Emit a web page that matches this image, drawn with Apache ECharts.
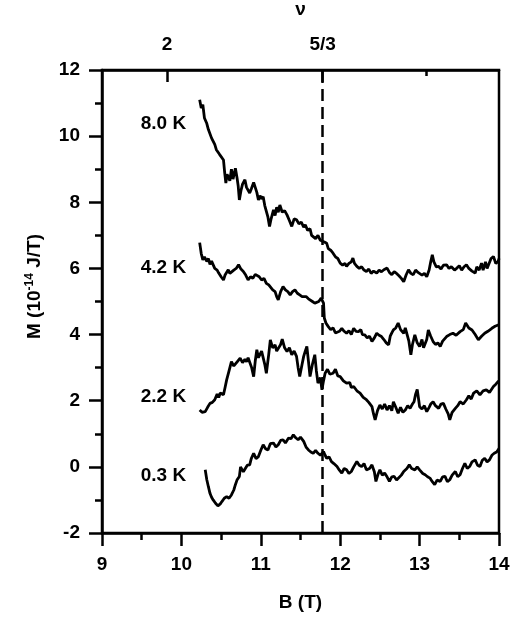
<!DOCTYPE html>
<html>
<head>
<meta charset="utf-8">
<script src="https://cdn.jsdelivr.net/npm/echarts@6/dist/echarts.min.js"></script>
<style>
  html, body { margin: 0; padding: 0; background: #fff; }
  #chart { width: 518px; height: 618px; }
</style>
</head>
<body>
<div id="chart"></div>
<script>
// B (T), M (1e-14 J/T)
const curve80 = [[10.23,11.10],[10.25,10.85],[10.27,10.95],[10.29,10.55],[10.30,10.49],[10.32,10.38],[10.34,10.20],[10.36,10.15],[10.38,9.94],[10.40,9.98],[10.42,9.75],[10.44,9.59],[10.46,9.65],[10.48,9.45],[10.50,9.42],[10.53,9.28],[10.545,8.9],[10.56,8.58],[10.575,8.85],[10.59,8.83],[10.61,8.65],[10.63,9.0],[10.65,8.7],[10.68,9.03],[10.70,8.75],[10.715,8.5],[10.73,8.07],[10.75,8.35],[10.77,8.55],[10.80,8.68],[10.82,8.45],[10.84,8.5],[10.86,8.28],[10.88,8.4],[10.91,8.6],[10.93,8.63],[10.95,8.3],[10.97,8.07],[10.99,8.2],[11.01,8.1],[11.03,8.17],[11.05,7.9],[11.07,7.85],[11.09,7.55],[11.11,7.27],[11.13,7.5],[11.16,7.77],[11.18,7.6],[11.2,7.85],[11.22,7.7],[11.24,7.92],[11.27,7.7],[11.3,7.75],[11.33,7.62],[11.36,7.45],[11.39,7.27],[11.42,7.5],[11.45,7.47],[11.48,7.35],[11.51,7.4],[11.54,7.25],[11.56,7.32],[11.59,7.15],[11.62,7.2],[11.64,7.0],[11.66,7.02],[11.69,6.9],[11.72,7.0],[11.75,6.85],[11.77,6.91],[11.8,6.8],[11.83,6.76],[11.85,6.6],[11.88,6.55],[11.91,6.46],[11.94,6.35],[11.97,6.3],[12.0,6.16],[12.03,6.1],[12.06,6.15],[12.08,6.06],[12.11,6.15],[12.14,6.2],[12.16,6.31],[12.18,6.15],[12.21,6.06],[12.24,6.0],[12.27,6.05],[12.3,5.95],[12.33,5.91],[12.36,5.98],[12.39,5.85],[12.42,5.92],[12.46,5.86],[12.49,5.95],[12.52,5.9],[12.55,5.96],[12.59,6.01],[12.62,5.88],[12.65,5.81],[12.68,5.9],[12.71,5.85],[12.74,5.78],[12.77,5.7],[12.8,5.6],[12.83,5.8],[12.86,5.96],[12.89,5.85],[12.92,5.81],[12.95,5.95],[12.98,5.88],[13.0,5.91],[13.03,5.8],[13.06,5.85],[13.09,5.75],[13.12,5.95],[13.14,6.2],[13.16,6.41],[13.18,6.2],[13.21,6.05],[13.24,6.06],[13.27,5.98],[13.3,6.1],[13.34,6.11],[13.37,6.0],[13.4,6.05],[13.44,5.95],[13.47,6.01],[13.5,6.08],[13.53,5.95],[13.56,6.05],[13.59,6.11],[13.62,6.0],[13.66,5.92],[13.7,5.86],[13.72,6.05],[13.75,5.95],[13.78,6.16],[13.8,5.95],[13.83,6.2],[13.85,6.0],[13.87,6.06],[13.9,6.3],[13.93,6.36],[13.96,6.15],[13.99,6.21],[14.0,6.3]];

const curve42 = [[10.23,6.78],[10.25,6.45],[10.27,6.26],[10.29,6.35],[10.32,6.21],[10.34,6.3],[10.36,6.12],[10.38,6.22],[10.4,6.16],[10.42,6.0],[10.45,5.95],[10.47,5.86],[10.5,5.75],[10.53,5.65],[10.55,5.8],[10.57,5.75],[10.59,5.96],[10.61,5.85],[10.63,5.81],[10.66,5.95],[10.69,6.0],[10.72,6.11],[10.75,5.98],[10.78,5.91],[10.81,5.8],[10.84,5.65],[10.87,5.75],[10.9,5.7],[10.93,5.82],[10.95,5.86],[10.98,5.75],[11.01,5.65],[11.04,5.7],[11.07,5.55],[11.1,5.5],[11.12,5.45],[11.15,5.35],[11.18,5.3],[11.2,5.15],[11.22,5.05],[11.25,5.3],[11.28,5.45],[11.31,5.35],[11.34,5.3],[11.37,5.2],[11.4,5.3],[11.43,5.35],[11.46,5.25],[11.49,5.2],[11.52,5.15],[11.54,5.1],[11.57,5.15],[11.6,5.08],[11.62,5.05],[11.65,5.0],[11.68,4.95],[11.7,4.9],[11.73,5.0],[11.76,5.1],[11.79,4.95],[11.8,4.5],[11.82,4.35],[11.85,4.24],[11.88,4.15],[11.91,4.2],[11.94,4.05],[11.96,3.99],[11.99,4.1],[12.02,4.19],[12.05,4.1],[12.08,4.04],[12.11,4.12],[12.14,4.0],[12.17,4.19],[12.2,4.1],[12.23,4.09],[12.26,4.15],[12.28,4.0],[12.31,3.99],[12.34,3.9],[12.37,3.95],[12.4,3.79],[12.43,3.9],[12.46,4.04],[12.49,3.98],[12.52,3.94],[12.55,3.85],[12.58,3.75],[12.61,3.69],[12.63,3.95],[12.65,4.05],[12.67,4.14],[12.7,4.2],[12.73,4.35],[12.76,4.15],[12.8,4.04],[12.82,4.2],[12.84,4.14],[12.865,3.8],[12.89,3.39],[12.91,3.7],[12.94,3.99],[12.97,3.75],[13.0,3.64],[13.03,3.85],[13.05,3.6],[13.07,3.54],[13.09,3.85],[13.11,4.14],[13.14,3.95],[13.17,3.79],[13.2,3.7],[13.23,3.75],[13.26,3.64],[13.29,3.8],[13.31,3.75],[13.34,3.94],[13.38,4.0],[13.42,4.04],[13.46,3.98],[13.51,4.09],[13.55,4.15],[13.58,4.35],[13.62,4.2],[13.66,4.14],[13.7,4.0],[13.74,3.84],[13.78,3.95],[13.82,4.04],[13.86,4.1],[13.91,4.19],[13.95,4.25],[13.99,4.29],[14.0,4.3]];

const curve22 = [[10.23,1.72],[10.26,1.65],[10.3,1.67],[10.33,1.8],[10.36,1.92],[10.39,1.95],[10.42,2.03],[10.45,2.2],[10.47,2.1],[10.49,2.23],[10.53,2.18],[10.55,2.4],[10.57,2.63],[10.6,2.9],[10.63,3.18],[10.66,3.05],[10.68,3.03],[10.71,3.2],[10.74,3.29],[10.77,3.15],[10.8,3.25],[10.82,3.18],[10.84,3.3],[10.86,3.34],[10.885,3.0],[10.91,2.73],[10.93,3.2],[10.95,3.54],[10.97,3.3],[10.99,3.24],[11.01,3.5],[11.03,3.44],[11.05,3.1],[11.07,2.83],[11.1,3.4],[11.12,3.84],[11.15,3.6],[11.18,3.69],[11.2,3.5],[11.22,3.54],[11.25,3.7],[11.27,3.86],[11.3,3.6],[11.33,3.49],[11.36,3.6],[11.39,3.39],[11.42,3.5],[11.45,3.34],[11.47,3.0],[11.49,2.73],[11.52,3.1],[11.54,3.34],[11.56,3.5],[11.58,3.64],[11.6,3.2],[11.62,2.73],[11.65,3.1],[11.68,3.39],[11.7,2.9],[11.72,2.53],[11.75,2.7],[11.77,2.33],[11.79,2.6],[11.81,2.83],[11.84,2.95],[11.87,2.8],[11.91,2.83],[11.94,2.95],[11.97,2.75],[12.0,2.73],[12.04,2.6],[12.08,2.53],[12.12,2.55],[12.14,2.4],[12.17,2.43],[12.21,2.3],[12.25,2.23],[12.29,2.1],[12.33,2.03],[12.36,1.95],[12.4,1.82],[12.42,1.6],[12.44,1.42],[12.47,1.7],[12.5,1.87],[12.53,1.75],[12.56,1.9],[12.59,1.72],[12.62,1.85],[12.65,1.7],[12.67,1.97],[12.7,1.8],[12.73,1.62],[12.76,1.8],[12.79,1.65],[12.82,1.72],[12.85,1.85],[12.88,1.77],[12.91,1.9],[12.93,1.97],[12.95,2.2],[12.97,2.34],[12.99,2.0],[13.0,1.82],[13.03,1.75],[13.06,1.85],[13.09,1.67],[13.12,1.8],[13.14,1.9],[13.17,1.97],[13.2,1.85],[13.24,1.77],[13.27,1.9],[13.3,1.92],[13.33,1.75],[13.36,1.6],[13.38,1.42],[13.41,1.65],[13.45,1.77],[13.48,1.85],[13.51,1.97],[13.55,1.9],[13.59,2.03],[13.62,2.15],[13.65,2.05],[13.68,2.23],[13.72,2.3],[13.76,2.18],[13.8,2.3],[13.84,2.33],[13.88,2.25],[13.93,2.43],[13.96,2.5],[13.99,2.58],[14.0,2.6]];

const curve03 = [[10.3,-0.09],[10.32,-0.39],[10.34,-0.6],[10.36,-0.8],[10.38,-0.92],[10.4,-1.0],[10.43,-1.1],[10.46,-1.18],[10.49,-1.12],[10.51,-1.05],[10.54,-0.95],[10.57,-0.9],[10.6,-0.95],[10.63,-0.85],[10.66,-0.7],[10.68,-0.54],[10.7,-0.4],[10.73,-0.29],[10.745,0.0],[10.76,0.06],[10.78,-0.15],[10.8,-0.09],[10.83,0.05],[10.86,0.06],[10.88,0.25],[10.91,0.41],[10.94,0.25],[10.97,0.31],[11.0,0.5],[11.03,0.67],[11.06,0.55],[11.09,0.51],[11.12,0.7],[11.16,0.72],[11.19,0.6],[11.22,0.67],[11.25,0.8],[11.28,0.82],[11.31,0.72],[11.35,0.87],[11.38,0.85],[11.41,0.97],[11.44,0.88],[11.47,0.82],[11.5,0.9],[11.54,0.77],[11.57,0.6],[11.6,0.51],[11.63,0.45],[11.66,0.41],[11.69,0.5],[11.72,0.41],[11.75,0.35],[11.79,0.46],[11.81,0.35],[11.83,0.26],[11.86,0.3],[11.89,0.16],[11.92,0.1],[11.96,0.01],[11.99,-0.1],[12.02,-0.19],[12.05,-0.05],[12.08,-0.09],[12.11,-0.2],[12.14,-0.14],[12.17,0.0],[12.21,0.16],[12.24,0.05],[12.27,0.01],[12.3,0.1],[12.33,-0.09],[12.37,-0.05],[12.4,0.06],[12.43,-0.15],[12.45,-0.44],[12.48,-0.2],[12.5,-0.09],[12.53,-0.25],[12.56,-0.19],[12.59,-0.3],[12.62,-0.44],[12.65,-0.3],[12.68,-0.29],[12.71,-0.4],[12.73,-0.39],[12.77,-0.25],[12.8,-0.14],[12.84,-0.05],[12.87,0.06],[12.9,-0.05],[12.94,-0.09],[12.97,0.0],[13.0,-0.09],[13.04,-0.2],[13.07,-0.24],[13.1,-0.3],[13.13,-0.34],[13.16,-0.45],[13.19,-0.54],[13.22,-0.4],[13.26,-0.44],[13.29,-0.3],[13.32,-0.29],[13.35,-0.45],[13.38,-0.39],[13.41,-0.25],[13.45,-0.14],[13.48,-0.3],[13.51,-0.24],[13.54,-0.05],[13.57,0.11],[13.6,-0.05],[13.63,0.01],[13.66,0.15],[13.7,0.21],[13.73,0.05],[13.76,0.01],[13.79,0.2],[13.82,0.26],[13.85,0.15],[13.88,0.21],[13.91,0.35],[13.94,0.41],[13.97,0.45],[13.99,0.51],[14.0,0.55]];

// temperature labels: [B at right edge of text, M]
const tempNames = ["8.0 K", "4.2 K", "2.2 K", "0.3 K"];
const tempPos = [[10.06, 10.37], [10.06, 6.02], [10.06, 2.12], [10.06, -0.27]];

// filling factor axis on top
const nuB = [9.82, 11.78];
const nuNames = ["2", "5/3"];
const nuMinorB = [13.09];
const dashB = 11.78;

const FONT = "'Liberation Sans', Arial, sans-serif";
const black = "#000";

const chart = echarts.init(document.getElementById("chart"));

function lineSeries(data) {
  return {
    type: "line",
    data: data,
    showSymbol: false,
    symbol: "none",
    lineStyle: { color: black, width: 2.8 },
    xAxisIndex: 0,
    yAxisIndex: 0,
    z: 3,
  };
}

const baseText = { color: black, fontFamily: FONT, fontSize: 19, fontWeight: "bold" };

chart.setOption({
  animation: false,
  backgroundColor: "#fff",
  grid: {
    left: 102,
    right: 19,
    top: 70,
    bottom: 85,
    outerBoundsMode: "none",
    containLabel: false,
    show: true,
    borderColor: black,
    borderWidth: 2.5,
  },
  xAxis: [
    {
      type: "value",
      position: "bottom",
      min: 9,
      max: 14,
      interval: 1,
      name: "B (T)",
      nameLocation: "middle",
      nameGap: 60,
      nameTextStyle: baseText,
      axisLine: { onZero: false, lineStyle: { color: black, width: 2.5 } },
      axisTick: { inside: false, length: 13, lineStyle: { color: black, width: 2.5 } },
      minorTick: { show: true, splitNumber: 2, length: 7, lineStyle: { color: black, width: 2.5 } },
      axisLabel: Object.assign({ margin: 22 }, baseText),
      splitLine: { show: false },
    },
    {
      type: "value",
      position: "top",
      min: 9,
      max: 14,
      name: "\u03bd",
      nameLocation: "middle",
      nameGap: 51,
      nameTextStyle: baseText,
      axisLine: { onZero: false, lineStyle: { color: black, width: 2.5 } },
      axisTick: {
        inside: true,
        length: 12,
        customValues: nuB,
        lineStyle: { color: black, width: 2.5 },
      },
      axisLabel: Object.assign(
        {
          margin: 16,
          customValues: nuB,
          formatter: function (v) {
            const i = nuB.indexOf(v);
            return i >= 0 ? nuNames[i] : "";
          },
        },
        baseText
      ),
      splitLine: { show: false },
    },
    {
      type: "value",
      position: "top",
      min: 9,
      max: 14,
      axisLine: { show: false, onZero: false },
      axisTick: {
        inside: true,
        length: 6,
        customValues: nuMinorB,
        lineStyle: { color: black, width: 2.5 },
      },
      axisLabel: { show: false },
      splitLine: { show: false },
    },
  ],
  yAxis: {
    type: "value",
    min: -2,
    max: 12,
    interval: 2,
    name: "M (10{sup|-14} J/T)",
    nameLocation: "middle",
    nameGap: 56,
    nameTextStyle: Object.assign(
      {
        lineHeight: 22,
        padding: [0, 0, 0, 30],
        rich: {
          sup: { color: black, fontFamily: FONT, fontSize: 12, fontWeight: "bold", verticalAlign: "top", lineHeight: 22 },
        },
      },
      baseText
    ),
    axisLine: { onZero: false, lineStyle: { color: black, width: 2.5 } },
    axisTick: { inside: false, length: 13, lineStyle: { color: black, width: 2.5 } },
    minorTick: { show: true, splitNumber: 2, length: 7, lineStyle: { color: black, width: 2.5 } },
    axisLabel: Object.assign({ margin: 22 }, baseText),
    splitLine: { show: false },
  },
  series: [
    lineSeries(curve80),
    lineSeries(curve42),
    lineSeries(curve22),
    Object.assign(lineSeries(curve03), {
      markLine: {
        silent: true,
        symbol: "none",
        label: { show: false },
        lineStyle: { color: black, width: 2.5, type: [12, 6] },
        data: [{ xAxis: dashB }],
      },
    }),
    {
      type: "scatter",
      symbolSize: 0,
      itemStyle: { opacity: 1 },
      data: tempPos.map(function (p, i) {
        return { value: p, name: tempNames[i] };
      }),
      label: Object.assign(
        {
          show: true,
          position: "left",
          distance: 0,
          opacity: 1,
          formatter: function (p) {
            return p.name;
          },
        },
        baseText
      ),
      silent: true,
    },
  ],
});
</script>
</body>
</html>
